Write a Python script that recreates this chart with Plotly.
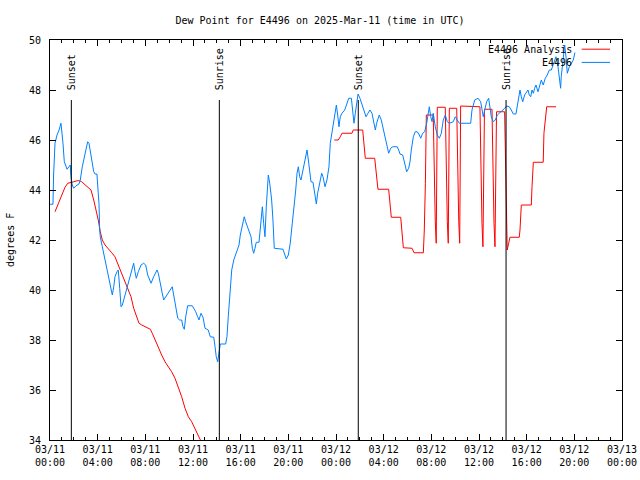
import pandas as pd
import plotly.graph_objects as go

BASE = pd.Timestamp("2025-03-11 00:00")

# Observations (E4496): hours since 2025-03-11 00:00 UTC, dew point degF
obs_hours = [0.0, 0.25, 0.3, 0.42, 0.59, 0.76, 0.92, 0.98, 1.09, 1.2, 1.43, 1.59, 1.7, 1.76, 1.87, 1.99,
             2.16, 2.43, 2.54, 2.71, 2.94, 3.16, 3.27, 3.44, 3.67, 3.78, 3.94, 4.05, 4.11, 4.17, 4.22,
             4.39, 4.56, 4.78, 4.95, 5.12, 5.23, 5.35, 5.45, 5.62, 5.73, 5.85, 5.96, 6.07, 6.18, 6.35,
             6.57, 6.74, 6.91, 7.02, 7.13, 7.24, 7.41, 7.64, 7.86, 8.03, 8.2, 8.48, 8.7, 8.98, 9.09,
             9.21, 9.42, 9.54, 9.71, 9.99, 10.26, 10.38, 10.55, 10.72, 10.88, 11.05, 11.16, 11.27,
             11.39, 11.55, 11.94, 12.23, 12.39, 12.5, 12.67, 12.84, 13.01, 13.28, 13.45, 13.74, 13.85,
             13.95, 14.07, 14.18, 14.29, 14.74, 14.85, 14.96, 15.08, 15.19, 15.25, 15.42, 15.58, 15.75,
             15.86, 15.97, 16.14, 16.3, 16.42, 16.59, 16.76, 16.87, 16.98, 17.09, 17.2, 17.31, 17.54,
             17.71, 17.82, 17.93, 18.04, 18.15, 18.27, 18.32, 18.44, 18.6, 18.71, 18.82, 19.55, 19.72,
             19.83, 20.0, 20.16, 20.33, 20.5, 20.62, 20.73, 20.84, 20.95, 21.06, 21.23, 21.4, 21.57,
             21.68, 21.79, 21.9, 22.07, 22.18, 22.35, 22.46, 22.63, 22.8, 22.91, 23.08, 23.24, 23.41,
             23.52, 23.69, 23.86, 24.03, 24.14, 24.25, 24.36, 24.5, 24.73, 24.9, 25.07, 25.29, 25.4,
             25.51, 25.62, 25.74, 25.85, 26.01, 26.18, 26.35, 26.52, 26.68, 26.85, 27.02, 27.19, 27.3,
             27.41, 27.63, 27.8, 27.97, 28.14, 28.3, 28.42, 28.59, 28.76, 29.14, 29.26, 29.37, 29.6,
             29.71, 29.82, 29.93, 30.1, 30.21, 30.32, 30.49, 30.65, 30.82, 30.99, 31.11, 31.27, 31.44,
             31.61, 31.72, 31.83, 31.95, 32.06, 32.16, 32.33, 32.5, 32.67, 32.84, 33.0, 33.17, 33.34,
             33.51, 33.84, 34.01, 34.18, 34.35, 35.3, 35.41, 35.64, 35.92, 36.14, 36.25, 36.36, 36.48,
             36.64, 36.81, 36.92, 37.03, 37.2, 37.37, 37.54, 37.7, 37.93, 38.16, 38.32, 38.54, 38.71,
             38.88, 39.1, 39.21, 39.33, 39.44, 39.55, 39.67, 39.83, 40.0, 40.11, 40.22, 40.34, 40.45,
             40.56, 40.67, 40.78, 40.95, 41.12, 41.23, 41.39, 41.56, 41.73, 41.9, 42.07, 42.18, 42.35,
             42.46, 42.63, 42.74, 42.85, 42.9, 43.02, 43.19, 43.3, 43.41, 43.58, 43.74, 43.91, 44.05]
obs_dewpt = [43.43, 43.43, 44.6, 45.87, 46.2, 46.4, 46.67, 46.4, 45.87, 45.13, 44.83, 44.93, 45.0, 44.53, 44.2, 44.07,
             44.16, 44.24, 44.4, 44.93, 45.47, 45.93, 45.87, 45.33, 44.73, 44.64, 44.64, 43.87, 43.47, 42.4, 42.13,
             41.73, 41.33, 40.8, 40.4, 40.0, 39.8, 40.13, 40.53, 40.73, 40.8, 40.07, 39.33, 39.4, 39.6, 39.87,
             40.2, 40.53, 40.87, 41.07, 40.73, 40.47, 40.73, 41.0, 41.07, 41.0, 40.6, 40.27, 40.53, 40.8, 40.67,
             40.33, 39.87, 39.6, 39.73, 39.93, 40.13, 39.8, 39.4, 38.87, 38.8, 38.8, 38.53, 38.43,
             38.93, 39.37, 39.37, 39.13, 38.93, 38.8, 39.07, 38.91, 38.47, 38.4, 38.13, 38.11, 37.73,
             37.33, 37.13, 37.47, 37.84, 37.84, 38.13, 38.93, 39.6, 40.13, 40.8, 41.2, 41.4, 41.6,
             41.8, 42.2, 42.53, 42.93, 42.73, 42.47, 42.27, 42.13, 41.67, 41.47, 41.67, 41.91, 41.91,
             42.67, 43.33, 42.67, 42.13, 43.33, 44.4, 44.6, 44.27, 43.6, 42.8, 41.67, 41.63, 41.4,
             41.24, 41.4, 41.87, 42.67, 43.33, 44.0, 44.67, 44.93, 44.53, 44.4, 44.8, 45.2, 45.6,
             45.2, 44.8, 44.33, 44.31, 43.87, 43.44, 43.87, 44.27, 44.67, 44.53, 44.13, 44.4, 44.93,
             45.87, 46.4, 46.93, 47.4, 47.0, 46.53, 46.93, 47.07, 47.2, 47.47, 47.67, 47.67, 47.07,
             46.67, 47.07, 47.47, 47.84, 47.67, 47.4, 47.13, 46.93, 47.07, 47.2, 47.07, 46.67, 46.4,
             46.67, 47.0, 46.8, 46.47, 46.07, 45.73, 45.47, 45.67, 45.73, 45.73, 45.6, 45.44, 45.4,
             45.2, 44.93, 44.73, 44.87, 45.13, 45.6, 46.13, 46.33, 46.33, 46.2, 46.07, 46.27, 46.33,
             46.67, 47.07, 47.33, 46.93, 46.73, 47.07, 46.53, 46.2, 46.07, 46.27, 46.8, 47.0, 46.73,
             46.67, 46.73, 46.93, 46.8, 46.67, 46.67, 47.2, 47.6, 47.67, 47.53, 47.2, 46.93, 47.2,
             47.53, 47.67, 47.33, 46.93, 46.73, 46.8, 47.0, 47.07, 47.13, 47.27, 47.36, 47.33, 47.2,
             47.04, 47.04, 47.4, 47.8, 48.0, 47.73, 47.53, 47.8, 47.93, 48.0, 47.8, 47.73, 48.0,
             47.87, 48.07, 48.2, 47.93, 48.2, 48.4, 48.2, 48.47, 48.6, 48.8, 48.8, 48.93, 49.13,
             49.33, 48.93, 48.4, 48.07, 48.53, 49.07, 49.8, 49.33, 48.67, 48.93, 49.07, 49.2, 49.5]

# Analysis (E4496 Analysis): None marks a gap in the series
ana_hours = [0.42, 0.7, 0.98, 1.26, 1.49, 1.76, 1.99, 2.27, 2.49, 2.66, 2.94, 3.21, 3.44, 3.67, 3.83,
             4.05, 4.22, 4.39, 4.62, 4.89, 5.18, 5.45, 5.73, 6.02, 6.29, 6.57, 6.8, 7.02, 7.24, 7.47,
             7.7, 7.97, 8.42, 8.58, 8.81, 9.09, 9.37, 9.65, 9.93, 10.21, 10.49, 10.77, 11.05, 11.33,
             11.61, 11.89, 12.17, 12.44, 12.67, 12.92, None,
             23.86, 24.19, 24.36, 24.5, 25.34, 25.45, 26.24, 26.35, 26.46, 27.25, 27.36, 27.52, 28.42,
             28.53, 28.64, 29.43, 29.54, 29.65, 30.38, 30.55, 31.33, 31.41, 31.5, 31.58,
             32.16, 32.25, 32.33, 32.41, 32.5,
             33.17, 33.25, 33.34, 33.42, 33.51,
             34.13, 34.21, 34.3, 34.38, 34.46,
             36.08, 36.17, 36.25, 36.33, 36.46,
             37.09, 37.17, 37.26, 37.34, 37.47,
             38.15, 38.24, 38.31, 38.37, 38.49, 38.6, 39.38, 39.44, 39.55, 40.39, 40.45, 40.56,
             41.39, 41.45, 41.68, 42.46]
ana_dewpt = [43.13, 43.47, 43.8, 44.11, 44.27, 44.29, 44.33, 44.37, 44.37, 44.33, 44.2, 44.11, 44.0, 43.6, 43.27,
             42.8, 42.33, 42.0, 41.8, 41.67, 41.49, 41.33, 41.0, 40.67, 40.33, 40.0, 39.73, 39.27, 38.93, 38.67,
             38.6, 38.53, 38.43, 38.27, 38.0, 37.73, 37.4, 37.13, 36.93, 36.73, 36.47, 36.13, 35.73, 35.27,
             34.93, 34.73, 34.47, 34.2, 34.0, 33.7, None,
             46.0, 46.0, 46.13, 46.27, 46.27, 46.4, 46.4, 45.87, 45.27, 45.27, 44.67, 44.03, 44.03,
             43.47, 42.91, 42.91, 42.27, 41.69, 41.67, 41.49, 41.49, 42.4, 44.27, 47.0,
             47.0, 44.5, 42.75, 41.87, 47.31,
             47.31, 44.5, 42.75, 41.87, 47.27,
             47.27, 44.5, 42.75, 41.87, 47.36,
             47.33, 44.53, 42.67, 41.73, 47.23,
             47.23, 44.53, 42.67, 41.73, 47.13,
             47.13, 44.5, 42.7, 41.6, 41.87, 42.11, 42.11, 42.4, 43.4, 43.4, 44.13, 45.11,
             45.11, 46.27, 47.33, 47.33]

# Sun events
event_hours = [1.79, 14.21, 25.87, 38.27]
event_labels = ["Sunset", "Sunrise", "Sunset", "Sunrise"]

# Axis ticks
tick_hours = [0, 4, 8, 12, 16, 20, 24, 28, 32, 36, 40, 44, 48]
tick_labels = ["03/11<br>00:00", "03/11<br>04:00", "03/11<br>08:00", "03/11<br>12:00", "03/11<br>16:00",
               "03/11<br>20:00", "03/12<br>00:00", "03/12<br>04:00", "03/12<br>08:00", "03/12<br>12:00",
               "03/12<br>16:00", "03/12<br>20:00", "03/13<br>00:00"]
minor_hours = list(range(0, 49))
y_ticks = [34, 36, 38, 40, 42, 44, 46, 48, 50]

series_names = ["E4496 Analysis", "E4496"]
series_colors = ["#ff0000", "#0080ff"]


def to_time(hours):
    return [None if h is None else BASE + pd.Timedelta(hours=h) for h in hours]


FONT = "DejaVu Sans Mono"

fig = go.Figure()
fig.add_trace(go.Scatter(x=to_time(ana_hours), y=ana_dewpt, mode="lines", name=series_names[0],
                         line=dict(color=series_colors[0], width=1), connectgaps=False, showlegend=False))
fig.add_trace(go.Scatter(x=to_time(obs_hours), y=obs_dewpt, mode="lines", name=series_names[1],
                         line=dict(color=series_colors[1], width=1), showlegend=False))

shapes = []
annotations = []
for h, lab in zip(event_hours, event_labels):
    t = BASE + pd.Timedelta(hours=h)
    shapes.append(dict(type="line", xref="x", yref="paper", x0=t, x1=t, y0=0, y1=0.85,
                       line=dict(color="black", width=1)))
    annotations.append(dict(x=t, xref="x", y=0.87, yref="paper", text=lab, showarrow=False,
                            textangle=-90, xanchor="center", yanchor="bottom",
                            font=dict(family=FONT, size=10, color="black")))

# Custom legend (text right-aligned, sample line on the right, gnuplot style)
legend_y = [0.977, 0.944]
for name, col, ly in zip(series_names, series_colors, legend_y):
    annotations.append(dict(x=0.9166, xref="paper", y=ly, yref="paper", text=name, showarrow=False,
                            xanchor="right", yanchor="middle",
                            font=dict(family=FONT, size=10, color="black")))
    shapes.append(dict(type="line", xref="paper", yref="paper", x0=0.9295, x1=0.979, y0=ly, y1=ly,
                       line=dict(color=col, width=1)))

annotations.append(dict(x=-0.07, xref="paper", y=0.5, yref="paper", text="degrees F", showarrow=False,
                        textangle=-90, xanchor="center", yanchor="middle",
                        font=dict(family=FONT, size=10, color="black")))

fig.update_layout(
    width=640, height=480,
    margin=dict(l=50, r=18, t=40, b=40, autoexpand=False),
    paper_bgcolor="white", plot_bgcolor="white",
    title=dict(text="Dew Point for E4496 on 2025-Mar-11 (time in UTC)", x=0.5, xanchor="center",
               y=1 - 20 / 480, yanchor="middle", yref="container",
               font=dict(family=FONT, size=10, color="black")),
    shapes=shapes, annotations=annotations,
    showlegend=False,
)
fig.update_xaxes(
    automargin=False,
    range=[BASE, BASE + pd.Timedelta(hours=48)],
    tickmode="array", tickvals=to_time(tick_hours), ticktext=tick_labels,
    ticks="inside", ticklen=6, tickcolor="black", tickwidth=1,
    minor=dict(tickmode="array", tickvals=to_time(minor_hours), ticks="inside", ticklen=3,
               tickcolor="black", tickwidth=1, showgrid=False),
    showline=True, linecolor="black", linewidth=1, mirror="allticks",
    showgrid=False, zeroline=False,
    tickfont=dict(family=FONT, size=10, color="black"),
)
fig.update_yaxes(
    automargin=False,
    range=[34, 50], tickmode="array", tickvals=y_ticks,
    ticks="inside", ticklen=6, tickcolor="black", tickwidth=1,
    showline=True, linecolor="black", linewidth=1, mirror="allticks",
    showgrid=False, zeroline=False, ticklabelstandoff=6,
    tickfont=dict(family=FONT, size=10, color="black"),
)

fig.write_html("out.html", config={"displayModeBar": False},
               post_script="document.body.style.margin='0px';")
